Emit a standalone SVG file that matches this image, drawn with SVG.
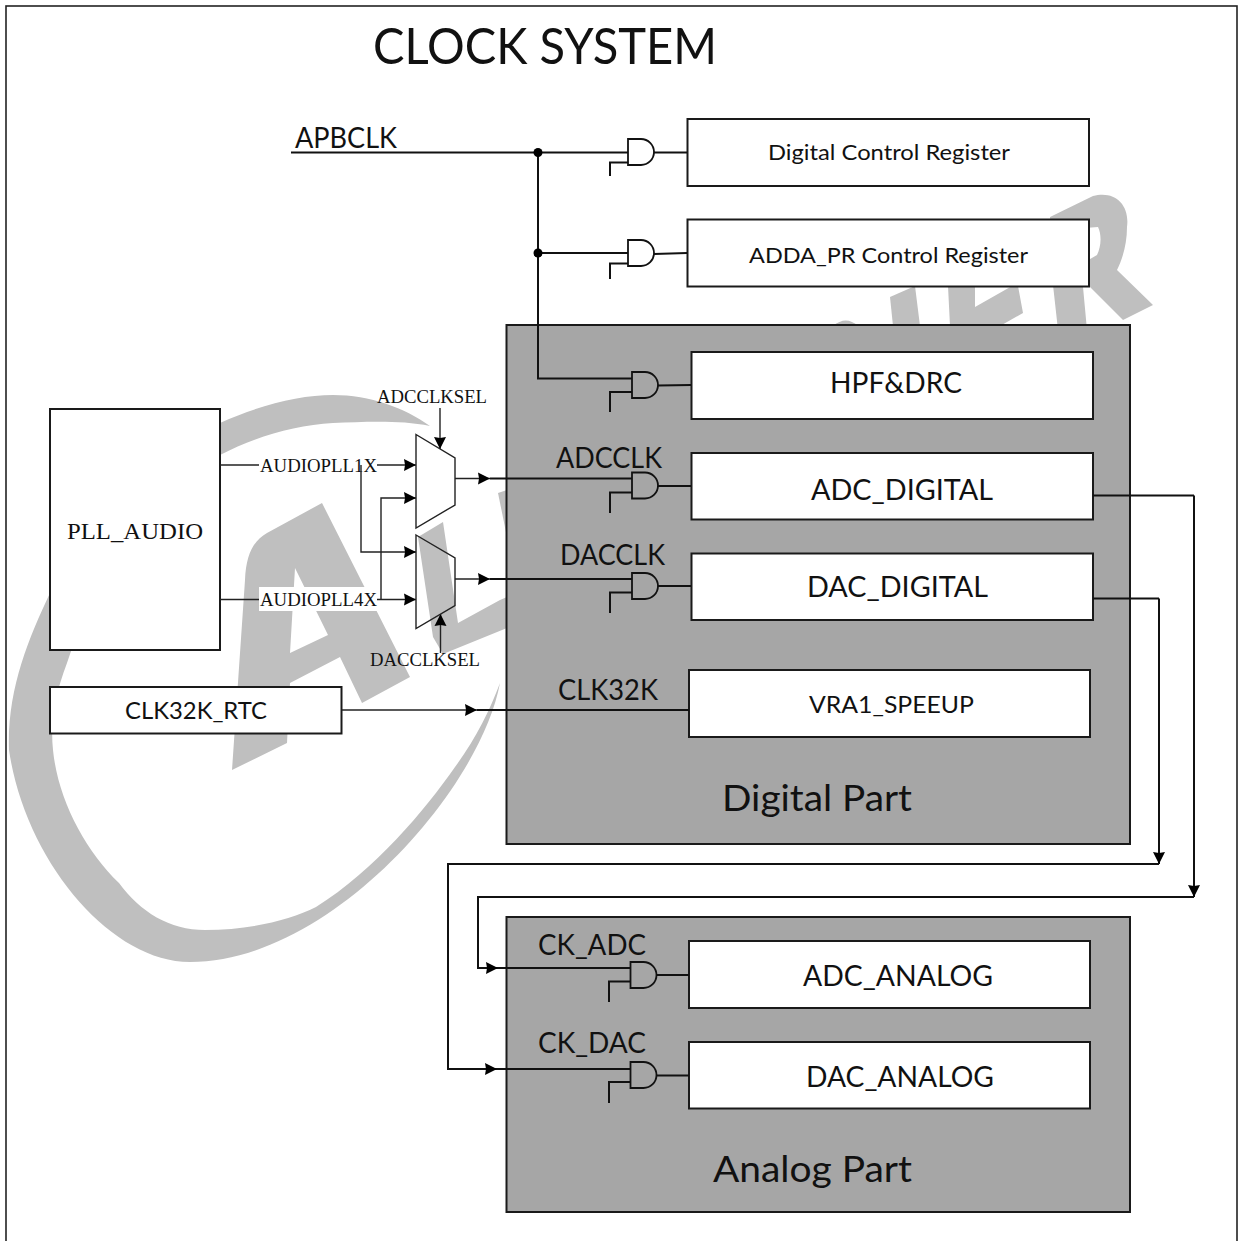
<svg xmlns="http://www.w3.org/2000/svg" width="1241" height="1241" viewBox="0 0 1241 1241">
<style>
.box{fill:#fff;stroke:#1a1a1a;stroke-width:2}
.part{fill:#a6a6a6;stroke:#1a1a1a;stroke-width:2}
.mux{fill:none;stroke:#222;stroke-width:1.4}
.wm{fill:#bfbfbf;stroke:none}
.w{fill:none;stroke:#111;stroke-width:2}
.t{fill:none;stroke:#222;stroke-width:1.4}
.k{fill:none;stroke:#111;stroke-width:2.200}
.a{marker-end:url(#arr)}
.gate{fill:none;stroke:#111;stroke-width:1.800}
text{fill:#111}
.c{font-family:"Lato","Liberation Sans",sans-serif}
.s{font-family:"Liberation Serif",serif}
</style>
<defs>
<marker id="arr" markerUnits="userSpaceOnUse" markerWidth="13" markerHeight="14" viewBox="0 0 13 14" refX="12" refY="7" orient="auto"><path d="M0,1 L12,7 L0,13 L1,7 Z" fill="#000"/></marker>
<path id="and" d="M0,-13 H13 A13,13 0 0 1 13,13 H0 Z"/>
</defs>
<rect width="1241" height="1241" fill="#fff"/>
<g id="watermark">
<path class="wm" d="M500,683 C480,790 330,962 190,962 C110,962 25,860 9,750 C7,690 28,640 50,593 C80,510 150,450 220,423 C260,405 300,395 333,395 C370,395 405,408 430,426 C400,420 365,422 333,423 C295,425 255,437 220,455 C150,495 95,580 67,663 C55,695 50,720 53,750 C58,800 85,850 119,883 C140,912 170,930 205,930 C250,930 290,920 316,907 C375,870 425,810 455,767 C475,740 490,710 500,683 Z"/>
<path class="wm" fill-rule="evenodd" d="M267,533 L322,503 L410,677 L362,703 L340,657 L290,683 L287,743 L232,770 L245,580 C246,555 253,541 267,533 Z M295,568 L290,653 L328,635 Z"/>
<path class="wm" d="M418,537 L443,522 L458,623 L500,600 L507,597 L507,628 L443,654 L433,637 Z"/>
<path class="wm" d="M498,493 L507,490 L507,537 Z"/>
<path class="wm" d="M890,297 L915,286 L920,326 L893,326 Z"/>
<path class="wm" d="M948,286 L975,286 L975,307 L1012,286 L1018,286 L1023,313 L1000,326 L950,326 Z"/>
<path class="wm" d="M833,326 Q846,315 858,326 Z"/>
<path class="wm" fill-rule="evenodd" d="M1050,217 L1093,196 C1115,190 1130,205 1127,227 C1127,245 1122,260 1117,270 L1153,305 L1123,320 L1088,285 L1083,287 L1087,330 L1058,330 L1053,285 Z M1085,228 L1098,227 C1102,235 1101,247 1097,255 L1085,262 Z"/>
</g>
<rect id="frame" x="6" y="6" width="1231" height="1245" fill="none" stroke="#222" stroke-width="1.6"/>
<text id="title" class="c" x="373" y="64" font-size="50" textLength="344" lengthAdjust="spacingAndGlyphs">CLOCK SYSTEM</text>

<g id="digital-part"><rect class="part" x="506.500" y="325" width="623.500" height="519"/><text class="c" x="722" y="811" font-size="37" textLength="190" lengthAdjust="spacingAndGlyphs">Digital Part</text></g>
<g id="analog-part"><rect class="part" x="506.500" y="917" width="623.500" height="295"/><text class="c" x="713" y="1182" font-size="37" textLength="199" lengthAdjust="spacingAndGlyphs">Analog Part</text></g>

<g id="digital-control-register"><rect class="box" x="687.500" y="119" width="401.500" height="67"/><text class="c" x="768" y="160" font-size="22" textLength="242" lengthAdjust="spacingAndGlyphs">Digital Control Register</text></g>
<g id="adda-pr-control-register"><rect class="box" x="687.500" y="219.500" width="401.500" height="67"/><text class="c" x="749" y="263" font-size="22" textLength="279" lengthAdjust="spacingAndGlyphs">ADDA_PR Control Register</text></g>
<g id="hpf-drc"><rect class="box" x="691.500" y="352" width="401.500" height="67"/><text class="c" x="830" y="393" font-size="29" textLength="132" lengthAdjust="spacingAndGlyphs">HPF&amp;DRC</text></g>
<g id="adc-digital"><rect class="box" x="691.500" y="453" width="401.500" height="66.500"/><text class="c" x="811" y="500" font-size="29" textLength="182" lengthAdjust="spacingAndGlyphs">ADC_DIGITAL</text></g>
<g id="dac-digital"><rect class="box" x="691.500" y="553.500" width="401.500" height="66.500"/><text class="c" x="807" y="597" font-size="29" textLength="181" lengthAdjust="spacingAndGlyphs">DAC_DIGITAL</text></g>
<g id="vra1-speeup"><rect class="box" x="689" y="670" width="401" height="67"/><text class="c" x="809" y="713" font-size="24" textLength="165" lengthAdjust="spacingAndGlyphs">VRA1_SPEEUP</text></g>
<g id="adc-analog"><rect class="box" x="689" y="941" width="401" height="67"/><text class="c" x="803" y="986" font-size="29" textLength="190" lengthAdjust="spacingAndGlyphs">ADC_ANALOG</text></g>
<g id="dac-analog"><rect class="box" x="689" y="1042" width="401" height="66.500"/><text class="c" x="806" y="1087" font-size="29" textLength="188" lengthAdjust="spacingAndGlyphs">DAC_ANALOG</text></g>
<g id="pll-audio"><rect class="box" x="50" y="409" width="170" height="241"/><text class="s" x="67" y="539" font-size="24" textLength="136" lengthAdjust="spacingAndGlyphs">PLL_AUDIO</text></g>
<g id="clk32k-rtc"><rect class="box" x="50" y="687" width="291.500" height="46.500"/><text class="c" x="125" y="719" font-size="23" textLength="142" lengthAdjust="spacingAndGlyphs">CLK32K_RTC</text></g>

<g id="connectors">
<path class="w" d="M291,152.500 H628"/>
<path class="w" d="M538,152.500 V378.500 H632"/>
<path class="k" d="M538,253 H628"/>
<circle cx="538" cy="152.500" r="4.500" fill="#000"/>
<circle cx="538" cy="253" r="4.500" fill="#000"/>

<path class="w" d="M654,152.500 H687"/>
<path class="w" d="M654,254 L687,253"/>
<path class="w" d="M658,385.500 L691,385"/>
<path class="w" d="M658,486 H691"/>
<path class="w" d="M658,586 H691"/>
<path class="w" d="M656,975 H689"/>
<path class="w" d="M656,1075.500 H689"/>

<path class="w" d="M628,162.500 H610 V176"/>
<path class="w" d="M628,263.500 H610 V279"/>
<path class="w" d="M632,392 H610 V412"/>
<path class="w" d="M632,492.500 H610 V513"/>
<path class="w" d="M632,592.500 H610 V613"/>
<path class="w" d="M631,981.500 H609 V1002"/>
<path class="w" d="M631,1082 H609 V1103"/>

<path class="t" d="M220,465 H260"/>
<rect x="259" y="453" width="119" height="24" fill="#fff"/>
<text class="s" x="260" y="472" font-size="19" textLength="117" lengthAdjust="spacingAndGlyphs">AUDIOPLL1X</text>
<path class="t a" d="M377,465 H416"/>
<path class="t a" d="M361,465 V552 H416"/>
<path class="t" d="M220,599.500 H260"/>
<rect x="259" y="587" width="119" height="24" fill="#fff"/>
<text class="s" x="260" y="606" font-size="19" textLength="117" lengthAdjust="spacingAndGlyphs">AUDIOPLL4X</text>
<path class="t a" d="M377,599.500 H416"/>
<path class="t a" d="M381,599.500 V498 H416"/>

<path class="t a" d="M455,478.500 H490"/>
<path class="k" d="M490,478.500 H632"/>
<path class="t a" d="M455,579 H490"/>
<path class="k" d="M490,579 H632"/>
<path class="t a" d="M342,710 H477"/>
<path class="k" d="M477,710 H689"/>

<path class="t a" d="M440,408 V449"/>
<path class="t a" d="M440.500,653 V614"/>

<path class="k" d="M1093,495.500 H1194"/>
<path class="w a" d="M1194,495.500 V897"/>
<path class="w" d="M1194,897 H478 V968 H487"/>
<path class="w a" d="M487,968 H498"/>
<path class="k" d="M498,968 H631"/>
<path class="k" d="M1093,598.500 H1159"/>
<path class="w a" d="M1159,598.500 V864"/>
<path class="w" d="M1159,864 H448 V1069 H486"/>
<path class="w a" d="M486,1069 H497"/>
<path class="k" d="M497,1069 H631"/>
</g>

<g id="gate-1"><use href="#and" class="gate" x="628" y="152"/></g>
<g id="gate-2"><use href="#and" class="gate" x="628" y="253"/></g>
<g id="gate-3"><use href="#and" class="gate" x="632" y="385"/></g>
<g id="gate-4"><use href="#and" class="gate" x="632" y="485.500"/></g>
<g id="gate-5"><use href="#and" class="gate" x="632" y="586"/></g>
<g id="gate-6"><use href="#and" class="gate" x="630.500" y="975"/></g>
<g id="gate-7"><use href="#and" class="gate" x="630.500" y="1075"/></g>

<g id="mux-adc"><path class="mux" d="M416,434.500 L455,458 V505 L416,528 Z"/><text class="s" x="377" y="403" font-size="19" textLength="110" lengthAdjust="spacingAndGlyphs">ADCCLKSEL</text></g>
<g id="mux-dac"><path class="mux" d="M416,535 L455,558 V605.500 L416,628.500 Z"/><text class="s" x="370" y="666" font-size="19" textLength="110" lengthAdjust="spacingAndGlyphs">DACCLKSEL</text></g>

<g id="labels">
<text class="c" x="295" y="148" font-size="28" textLength="102" lengthAdjust="spacingAndGlyphs">APBCLK</text>
<text class="c" x="556" y="468" font-size="28" textLength="106" lengthAdjust="spacingAndGlyphs">ADCCLK</text>
<text class="c" x="560" y="565" font-size="28" textLength="105" lengthAdjust="spacingAndGlyphs">DACCLK</text>
<text class="c" x="558" y="700" font-size="28" textLength="100" lengthAdjust="spacingAndGlyphs">CLK32K</text>
<text class="c" x="538" y="955" font-size="28" textLength="108" lengthAdjust="spacingAndGlyphs">CK_ADC</text>
<text class="c" x="538" y="1053" font-size="28" textLength="108" lengthAdjust="spacingAndGlyphs">CK_DAC</text>
</g>
</svg>
